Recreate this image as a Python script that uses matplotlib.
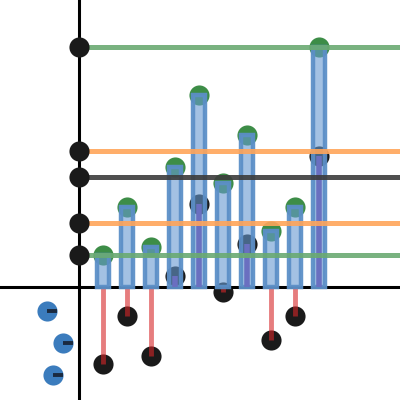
import matplotlib
matplotlib.use("Agg")
import matplotlib.pyplot as plt
import numpy as np

# ---- data ----
positions = [1, 2, 3, 4, 5, 6, 7, 8, 9, 10]
highs = [4, 10, 5, 15, 24, 13, 19, 7, 10, 30]
lows = [-9.7, -3.7, -8.7, 1.3, 10.3, -0.7, 5.3, -6.7, -3.7, 16.3]
ref_levels = [30, 17, 13.7, 8, 4]
ref_colors = ["#6aaa72", "#ffa55a", "#3c3c3c", "#ffa55a", "#6aaa72"]
side_x = [-1.35, -0.65, -1.1]
side_y = [-3, -7, -11]
dash_len = 0.42

fig = plt.figure(figsize=(4, 4), dpi=100)
ax = fig.add_axes([0, 0, 1, 1])
ax.set_xlim(-79 / 24, 321 / 24)
ax.set_ylim(-(400 - 286.5) / 8, 286.5 / 8)

for s in ["top", "right"]:
    ax.spines[s].set_visible(False)
for s in ["left", "bottom"]:
    ax.spines[s].set_position(("data", 0))
    ax.spines[s].set_linewidth(2.2)
    ax.spines[s].set_color("black")
ax.set_xticks([])
ax.set_yticks([])

x = np.array(positions)
hi = np.array(highs)
lo = np.array(lows)

# dots under bars
ax.scatter(x, hi, s=210, color="#3d8d47", zorder=2, linewidths=0)
ax.scatter(x, lo, s=210, color="#1a1a1a", zorder=2, linewidths=0)

# connectors from low to zero
neg = lo < 0
ax.vlines(x[neg], lo[neg], 0, colors=[(0.84, 0.15, 0.16, 0.6)], linewidth=3.5, zorder=2.6)

# bars
ax.bar(x, hi, width=0.46, facecolor=(0.40, 0.60, 0.82, 0.6),
       edgecolor=(0.36, 0.56, 0.78, 0.95), linewidth=3.2, zorder=3)

pos = lo > 0
ax.vlines(x[pos], 0, lo[pos], colors=["#6a6fc0"], linewidth=4, zorder=3.5)

# reference lines
xmax = ax.get_xlim()[1]
ax.hlines(ref_levels, 0, xmax, colors=ref_colors, linewidth=3.6, alpha=0.9, zorder=5)
ax.scatter(np.zeros(len(ref_levels)), ref_levels, s=210, color="#1a1a1a", zorder=6, linewidths=0)

# left points
sx = np.array(side_x)
sy = np.array(side_y)
ax.scatter(sx, sy, s=210, color="#3b7cbd", zorder=4, linewidths=0)
for xx, yy in zip(sx, sy):
    ax.plot([xx, xx + dash_len], [yy, yy], color="#1a2a40", linewidth=2.8,
            solid_capstyle="butt", zorder=5)

fig.savefig("out.png", dpi=100)
